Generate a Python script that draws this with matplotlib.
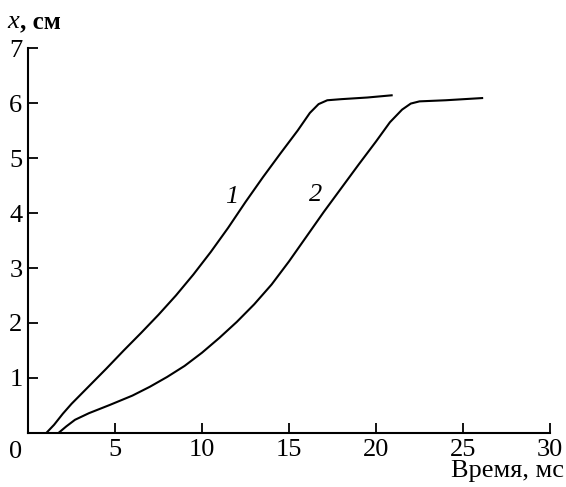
import matplotlib
matplotlib.use("Agg")
import matplotlib.pyplot as plt

# Curve 1
t1 = [1.05, 1.5, 2.0, 2.5, 3.5, 4.5, 5.5, 6.5, 7.5, 8.5, 9.5, 10.5, 11.5, 12.5,
      13.5, 14.5, 15.5, 16.2, 16.7, 17.2, 18.0, 19.5, 20.9]
x1 = [0.0, 0.15, 0.35, 0.53, 0.85, 1.17, 1.5, 1.82, 2.15, 2.5, 2.88, 3.29, 3.73, 4.2,
      4.65, 5.08, 5.5, 5.82, 5.98, 6.05, 6.07, 6.1, 6.14]

# Curve 2
t2 = [1.75, 2.2, 2.7, 3.5, 4.7, 6.0, 7.0, 8.0, 9.0, 10.0, 11.0, 12.0, 13.0, 14.0,
      15.0, 16.0, 17.0, 18.0, 19.0, 20.0, 20.8, 21.5, 22.0, 22.5, 24.0, 26.1]
x2 = [0.0, 0.12, 0.24, 0.36, 0.51, 0.68, 0.84, 1.02, 1.22, 1.46, 1.73, 2.02, 2.34, 2.7,
      3.12, 3.57, 4.02, 4.45, 4.88, 5.3, 5.65, 5.88, 5.99, 6.03, 6.05, 6.09]

xticks = [5, 10, 15, 20, 25, 30]
yticks = [1, 2, 3, 4, 5, 6, 7]

plt.rcParams["font.family"] = ["Liberation Serif", "DejaVu Serif"]

fig = plt.figure(figsize=(5.66, 4.87), dpi=100)
ax = fig.add_axes([0.0495, 0.1109, 0.9222, 0.7905])

ax.plot(t1, x1, color="black", lw=1.5)
ax.plot(t2, x2, color="black", lw=1.5)

ax.set_xlim(0, 30)
ax.set_ylim(0, 7)
ax.spines["top"].set_visible(False)
ax.spines["right"].set_visible(False)
ax.spines["left"].set_linewidth(1.5)
ax.spines["bottom"].set_linewidth(1.5)

ax.set_xticks(xticks)
ax.set_yticks(yticks)
ax.tick_params(direction="in", length=7, width=1.3, labelsize=19)
ax.tick_params(axis="x", pad=4)
ax.tick_params(axis="y", pad=4)

# curve labels
ax.text(11.7, 4.29, "1", fontsize=19, style="italic", ha="center", va="center")
ax.text(16.55, 4.33, "2", fontsize=19, style="italic", ha="center", va="center")

# corner zero and axis titles
fig.text(16 / 566, 1 - 452 / 487, "0", fontsize=19, ha="center", va="center")
fig.text(564 / 566, 1 - 471 / 487, "Время, мс", fontsize=19, ha="right", va="center")
fig.text(7 / 566, 1 - 22 / 487, "x", fontsize=19, style="italic", ha="left", va="center")
fig.text(20 / 566, 1 - 22 / 487, ", см", fontsize=18, weight="bold", ha="left", va="center")

fig.savefig("out.png", dpi=100)
